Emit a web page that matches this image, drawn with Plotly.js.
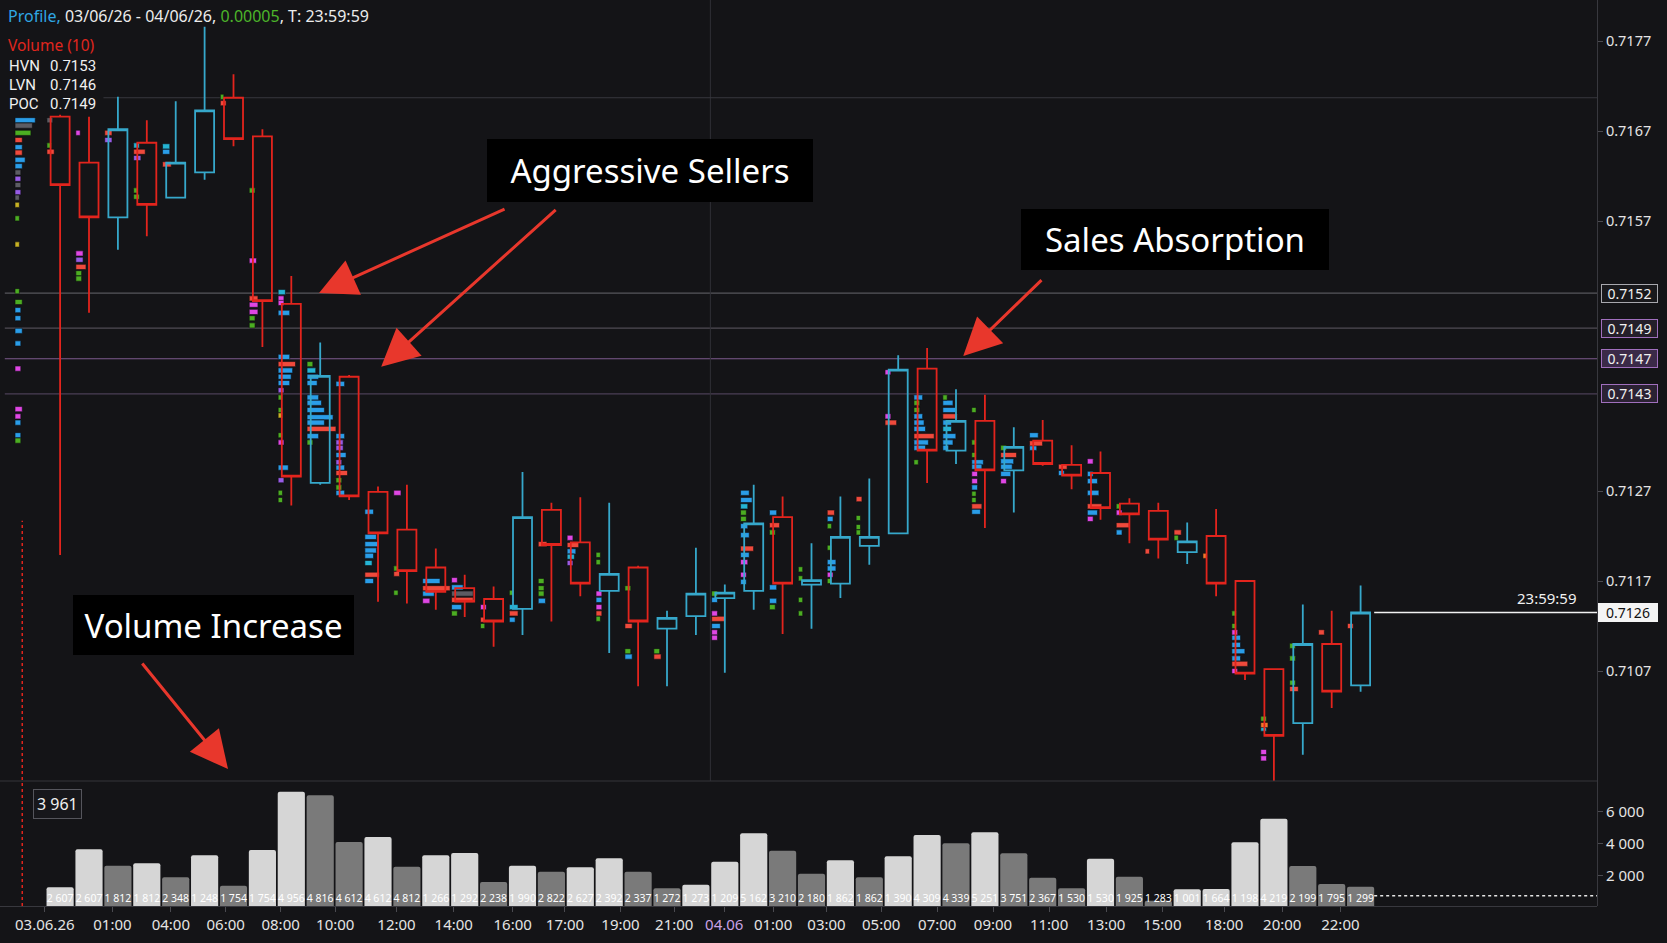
<!DOCTYPE html>
<html><head><meta charset="utf-8">
<script src="https://cdn.plot.ly/plotly-3.0.1.min.js"></script>
<style>html,body{margin:0;padding:0;background:#141417;overflow:hidden}#chart{width:1667px;height:943px}</style>
</head><body><div id="chart"></div>
<script>
// ---------------- DATA ----------------
const openP  = [0.71686,0.71635,0.71574,0.71657,0.71596,0.71624,0.71707,0.71664,0.71478,0.71279,0.71397,0.71269,0.71227,0.71185,0.71162,0.71150,0.71139,0.71249,0.71213,0.71159,0.71185,0.71117,0.71131,0.71151,0.71159,0.71241,0.71166,0.71167,0.71209,0.71223,0.71406,0.71315,0.71348,0.71293,0.71326,0.71299,0.71290,0.71256,0.71248,0.71202,0.71220,0.71170,0.71072,0.71012,0.71100,0.71054];
const highP  = [0.71688,0.71686,0.71708,0.71682,0.71703,0.71786,0.71733,0.71672,0.71509,0.71435,0.71399,0.71275,0.71277,0.71206,0.71177,0.71164,0.71291,0.71257,0.71263,0.71257,0.71187,0.71137,0.71207,0.71166,0.71277,0.71264,0.71212,0.71264,0.71284,0.71421,0.71429,0.71383,0.71377,0.71341,0.71349,0.71321,0.71314,0.71262,0.71257,0.71235,0.71250,0.71170,0.71072,0.71144,0.71137,0.71165];
const lowP   = [0.71199,0.71468,0.71538,0.71553,0.71595,0.71616,0.71653,0.71430,0.71254,0.71277,0.71260,0.71147,0.71145,0.71138,0.71130,0.71097,0.71110,0.71125,0.71153,0.71090,0.71053,0.71053,0.71110,0.71068,0.71138,0.71111,0.71117,0.71151,0.71188,0.71223,0.71279,0.71300,0.71229,0.71246,0.71298,0.71272,0.71238,0.71212,0.71195,0.71189,0.71153,0.71060,0.70901,0.70977,0.71029,0.71047];
const closeP = [0.71610,0.71574,0.71672,0.71588,0.71635,0.71693,0.71661,0.71481,0.71286,0.71398,0.71264,0.71223,0.71181,0.71158,0.71147,0.71125,0.71241,0.71210,0.71167,0.71178,0.71125,0.71129,0.71156,0.71157,0.71234,0.71167,0.71171,0.71219,0.71219,0.71405,0.71315,0.71348,0.71293,0.71319,0.71300,0.71287,0.71251,0.71244,0.71216,0.71214,0.71167,0.71067,0.70998,0.71100,0.71047,0.71135];

const volume = [1275,3650,2625,2775,1900,3275,1375,3606,7250,7025,4106,4419,2563,3275,3419,1606,2625,2250,2525,3088,2250,1213,1438,2875,4650,3563,2125,2963,1900,3213,4544,4025,4713,3400,1875,1213,3063,1938,438,1150,1169,4088,5563,2606,1481,1313];
const volumeLabels = ['2 607','2 607','1 812','1 812','2 348','1 248','1 754','1 754','4 956','4 816','4 612','4 612','4 812','1 266','1 292','2 238','1 990','2 822','2 627','2 392','2 337','1 272','1 273','1 209','5 162','3 210','2 180','1 862','1 862','1 390','4 309','4 339','5 251','3 751','2 367','1 530','1 530','1 925','1 283','1 001','1 664','1 198','4 219','2 199','1 795','1 299'];
const volumeRefLevel = 750;
const volumeBoxLabel = '3 961';

const timeTickPos  = [-0.53,1.81,3.83,5.73,7.63,9.52,11.64,13.62,15.66,17.47,19.39,21.25,22.98,24.67,26.52,28.41,30.35,32.28,34.22,36.2,38.14,40.28,42.29,44.3];
const timeTickText = ['03.06.26','01:00','04:00','06:00','08:00','10:00','12:00','14:00','16:00','17:00','19:00','21:00','04.06','01:00','03:00','05:00','07:00','09:00','11:00','13:00','15:00','18:00','20:00','22:00'];
const dayBreak = 22.5;

const priceTickVals = [0.7177,0.7167,0.7157,0.7127,0.7117,0.7107];
const priceTickText = ['0.7177','0.7167','0.7157','0.7127','0.7117','0.7107'];
const volTickVals = [2000,4000,6000];
const volTickText = ['2 000','4 000','6 000'];

const gridLevel = 0.71707;
const levelPrices = [0.71490,0.71451,0.71417,0.71378];
const levelLabels = ['0.7152','0.7149','0.7147','0.7143'];
const lastPriceLabel = '0.7126';
const timerLabel = '23:59:59';

const legendLabels = ['HVN','LVN','POC'];
const legendValues = ['0.7153','0.7146','0.7149'];

// footprint profiles: candle index (-1 = session profile), prices, sizes (fraction of slot), side/type codes
const profCandles = [-1,0,1,2,3,4,6,7,8,9,10,11,12,13,14,15,16,17,18,19,20,21,23,24,25,26,27,28,29,30,31,32,33,34,35,36,37,38,39,40,41,42,43,44,45];
const profPrices = [
 [0.71682,0.71676,0.71668,0.71660,0.71652,0.71646,0.71638,0.71631,0.71624,0.71617,0.71610,0.71602,0.71596,0.71588,0.71573,0.71544,0.71492,0.71480,0.71471,0.71462,0.71448,0.71434,0.71406,0.71361,0.71353,0.71346,0.71332,0.71326],
 [0.71682,0.71654,0.71647],
 [0.71668,0.71534,0.71527,0.71519,0.71512,0.71506],
 [0.71668,0.71660],
 [0.71654,0.71647,0.71640,0.71604,0.71597],
 [0.71653,0.71647,0.71633],
 [0.71708,0.71701],
 [0.71604,0.71526,0.71484,0.71477,0.71469,0.71462,0.71454],
 [0.71491,0.71484,0.71479,0.71468,0.71419,0.71411,0.71404,0.71397,0.71390,0.71382,0.71374,0.71360,0.71354,0.71332,0.71324,0.71296,0.71282,0.71268,0.71260],
 [0.71411,0.71404,0.71397,0.71390,0.71374,0.71368,0.71360,0.71352,0.71346,0.71339,0.71331,0.71324],
 [0.71389,0.71331,0.71324,0.71318,0.71310,0.71302,0.71296,0.71290,0.71282,0.71274,0.71268],
 [0.71247,0.71219,0.71211,0.71204,0.71198,0.71190,0.71177,0.71170],
 [0.71268,0.71184,0.71178,0.71157],
 [0.71170,0.71162,0.71156,0.71148],
 [0.71171,0.71163,0.71156,0.71149,0.71141,0.71134],
 [0.71141,0.71127,0.71120],
 [0.71157,0.71141,0.71134,0.71127],
 [0.71211,0.71170,0.71162,0.71156,0.71148],
 [0.71218,0.71210,0.71203,0.71197,0.71190],
 [0.71199,0.71191,0.71156,0.71149,0.71141,0.71134,0.71128],
 [0.71162,0.71120,0.71092,0.71086],
 [0.71092,0.71086],
 [0.71156,0.71149,0.71134,0.71128,0.71120,0.71113,0.71107],
 [0.71268,0.71260,0.71253,0.71246,0.71239,0.71231,0.71221,0.71206,0.71199,0.71191,0.71177,0.71169],
 [0.71246,0.71232,0.71224,0.71163,0.71148,0.71141],
 [0.71183,0.71173,0.71149,0.71134],
 [0.71246,0.71239,0.71231,0.71207,0.71191,0.71184,0.71177,0.71170],
 [0.71261,0.71240,0.71230,0.71224],
 [0.71402,0.71353,0.71346],
 [0.71374,0.71368,0.71360,0.71353,0.71346,0.71339,0.71331,0.71324,0.71318,0.71302],
 [0.71374,0.71368,0.71360,0.71353,0.71346,0.71339,0.71331,0.71324,0.71318],
 [0.71360,0.71324,0.71310,0.71302,0.71297,0.71289,0.71281,0.71274,0.71267,0.71260,0.71253,0.71247],
 [0.71318,0.71310,0.71303,0.71297,0.71289,0.71281],
 [0.71332,0.71323,0.71318],
 [0.71297,0.71290],
 [0.71303,0.71289,0.71281,0.71268,0.71253,0.71246,0.71239],
 [0.71253,0.71246,0.71232,0.71224],
 [0.71203],
 [0.71224,0.71218],
 [0.71198],
 [0.71134,0.71120,0.71113,0.71107,0.71099,0.71092,0.71084,0.71078,0.71070],
 [0.71017,0.71010,0.71006,0.70980,0.70973,0.70938,0.70922,0.70917,0.70908],
 [0.71098,0.71084,0.71057,0.71050],
 [0.71113],
 [0.71120]
];
const profSizes = [
 [.70,.60,.55,.25,.25,.25,.35,.25,.20,.20,.20,.20,.15,.15,.15,.15,.15,.25,.20,.20,.25,.20,.20,.25,.20,.20,.20,.20],
 [.2,.15,.25],
 [.15,.25,.25,.35,.2,.2],
 [.25,.25],
 [.2,.4,.25,.15,.2],
 [.25,.25,.3],
 [.12,.2],
 [.2,.25,.3,.3,.3,.2,.2],
 [.25,.2,.2,.4,.4,.6,.5,.45,.4,.2,.15,.15,.15,.15,.2,.35,.2,.15,.15],
 [.2,.3,.4,.35,.4,.5,.6,.9,.6,1.0,.4,.2],
 [.3,.3,.25,.25,.35,.2,.3,.4,.2,.2,.3],
 [.3,.4,.45,.4,.3,.25,.5,.3],
 [.25,.15,.2,.15],
 [.6,.95,.4,.25],
 [.2,.4,.75,.75,.35,.2],
 [.2,.15,.15],
 [.15,.3,.3,.2],
 [.3,.2,.2,.2,.25],
 [.2,.4,.3,.25,.2],
 [.15,.15,.2,.2,.2,.2,.15],
 [.2,.25,.2,.25],
 [.2,.25],
 [.2,.2,.2,.45,.3,.2,.2],
 [.3,.4,.25,.2,.2,.25,.3,.45,.3,.25,.2,.2],
 [.25,.35,.2,.25,.25,.2],
 [.15,.15,.15,.15],
 [.25,.2,.15,.15,.3,.3,.2,.15],
 [.2,.15,.15,.15],
 [.2,.2,.4],
 [.3,.2,.2,.3,.35,.4,.7,.5,.4,.15],
 [.15,.35,.45,.5,.3,.3,.45,.35,.2],
 [.15,.15,.15,.4,.35,.2,.2,.2,.15,.15,.35,.3],
 [.2,.55,.45,.4,.35,.2],
 [.3,.45,.25],
 [.3,.2],
 [.2,.2,.35,.4,.5,.35,.2],
 [.15,.2,.45,.2],
 [.15],
 [.25,.15],
 [.12],
 [.15,.15,.2,.3,.3,.45,.3,.55,.2],
 [.2,.25,.2,.2,.2,.25,.2,.25,.15],
 [.2,.2,.2,.3],
 [.2],
 [.2]
];
const profTypes = ['bkgrbrbbkvkvkygyggbbbbmmmbbg','kgr','mmvrgg','rv','crvgg','cbr','gr','gmrmmgg','cmmbbrbbbvggygmbvgg','gcbbbbbbbrbg','bbvvbvbrggb','bbbbbcrb','mgrg','brbm','mbkrbg','mrg','gcrb','rgggb','mrbcv','ggmbmrg','grgb','gr','gbmrbmm','bbcggbbrbmmb','brgbbg','gggg','rbggbbmg','rggg','mmr','bggbbbrbbg','gbbrbcbbb','gggbbmmbggrb','grbbbm','brb','rb','mbbbrbm','gmrb','r','rg','o','ggmbbbbrm','gocmmrgbc','gggr','r','r'];

// ---------------- RENDER ----------------
const FONT = 'Noto Sans, Open Sans, sans-serif';
const TIGHT = 'Roboto, Noto Sans, sans-serif';
const BG = '#141417';
const UP = '#36a8cb', DOWN = '#e3241d';
const PW = 1597, PH = 906;                 // plot area in px (margins l=0,t=0)
const px = X => X / PW, py = Y => 1 - Y / PH;
const X_RANGE = [-2.08, 53.18];
const Y_RANGE = [0.708089, 0.718156];
const V_RANGE = [106, 7919];
const V_DOMAIN = [0, 125 / PH];
const idx = openP.map((_, i) => i);

const traces = [];

// footprint profile bars
const profColors = {b:'#2a9de8', c:'#25b4d4', r:'#ef4a3c', g:'#4cae22', m:'#df47e4', v:'#985ce6', y:'#c8b224', k:'#5c5c63', o:'#f0782c'};
const flat = {c:[], p:[], s:[], t:[]};
profCandles.forEach((c, k) => {
  profPrices[k].forEach((p, j) => {
    flat.c.push(c); flat.p.push(p); flat.s.push(profSizes[k][j]); flat.t.push(profTypes[k][j]);
  });
});
Object.keys(profColors).forEach(t => {
  const sel = flat.t.map((v, i) => v === t ? i : -1).filter(i => i >= 0);
  if (!sel.length) return;
  traces.push({
    type: 'bar', orientation: 'h', xaxis: 'x', yaxis: 'y',
    y: sel.map(i => flat.p[i]), x: sel.map(i => flat.s[i]),
    base: sel.map(i => flat.c[i] < 0 ? -1.56 : flat.c[i] - 0.455),
    width: 0.000057, marker: {color: profColors[t], cornerradius: 0.5, line: {width: 0.6, color: '#0d0d10'}},
    hoverinfo: 'skip', showlegend: false
  });
});

// candles
traces.push({
  type: 'candlestick', x: idx, open: openP, high: highP, low: lowP, close: closeP,
  xaxis: 'x', yaxis: 'y', whiskerwidth: 0,
  increasing: {line: {color: UP, width: 1.8}, fillcolor: 'rgba(0,0,0,0)'},
  decreasing: {line: {color: DOWN, width: 1.8}, fillcolor: 'rgba(0,0,0,0)'},
  hoverinfo: 'skip', showlegend: false
});

// volume bars
const volColors = volume.map((v, i) => (i === 0 || v >= volume[i - 1]) ? '#d6d6d6' : '#7a7a7a');
traces.push({
  type: 'bar', x: idx, y: volume, xaxis: 'x', yaxis: 'y2',
  marker: {color: volColors, line: {width: 0}},
  text: volumeLabels, textposition: 'inside', insidetextanchor: 'start', textangle: 0,
  constraintext: 'none', textfont: {family: FONT, size: 10.5, color: '#ffffff'},
  hoverinfo: 'skip', showlegend: false
});

// shapes
const shapes = [];
shapes.push({type: 'line', layer: 'below', xref: 'x', yref: 'y', x0: 1.5, x1: X_RANGE[1], y0: gridLevel, y1: gridLevel, line: {color: '#38383e', width: 1}});
const levelLine = ['#56565c', '#4f4b55', '#7d5a8e', '#4a3e56'];
const levelFill = ['#19191c', '#241f2a', '#3b2a48', '#2b2233'];
const levelBorder = ['#a8a8ae', '#a06fbd', '#a06fbd', '#a06fbd'];
levelPrices.forEach((p, i) => {
  shapes.push({type: 'line', layer: 'below', xref: 'paper', yref: 'y', x0: 0.003, x1: 1, y0: p, y1: p, line: {color: levelLine[i], width: 1.2}});
});
shapes.push({type: 'line', layer: 'below', xref: 'x', yref: 'paper', x0: dayBreak, x1: dayBreak, y0: 0, y1: 1, line: {color: '#303036', width: 1}});
shapes.push({type: 'line', xref: 'x', yref: 'y', x0: -1.31, x1: -1.31, y0: Y_RANGE[0], y1: 0.71237, line: {color: '#e0241c', width: 1.5, dash: 'dot'}});
shapes.push({type: 'line', xref: 'x', yref: 'y', x0: idx[idx.length - 1] + 0.47, x1: X_RANGE[1], y0: closeP[closeP.length - 1], y1: closeP[closeP.length - 1], line: {color: '#f2f2f2', width: 1.6}});
shapes.push({type: 'line', xref: 'paper', yref: 'y2 domain', x0: 0, x1: 1, y0: 1, y1: 1, line: {color: '#34343a', width: 1}});
shapes.push({type: 'line', xref: 'x', yref: 'y2', x0: idx[idx.length - 1] + 0.47, x1: X_RANGE[1], y0: volumeRefLevel, y1: volumeRefLevel, line: {color: '#e6e6e6', width: 1.4, dash: 'dot'}});

// annotations
const ann = [];
const txt = (x, y, text, size, color, fam) => ({xref: 'paper', yref: 'paper', x, y, text, showarrow: false, xanchor: 'left', yanchor: 'middle',
  font: {family: fam || FONT, size, color}, borderpad: 0});
ann.push(txt(px(7), py(16), '<span style="color:#2fa7e4">Profile,</span> 03/06/26 - 04/06/26, <span style="color:#4cb52a">0.00005</span>, T: 23:59:59', 16, '#ececec'));
ann.push(txt(px(7), py(45), 'Volume (10)', 15.5, '#e0261e'));
legendLabels.forEach((l, i) => {
  ann.push(txt(px(8), py(66.5 + i * 18.8), l, 15, '#f0f0f0', TIGHT));
  ann.push(txt(px(49), py(66.5 + i * 18.8), legendValues[i], 15, '#f0f0f0', TIGHT));
});
// level labels on the right axis
levelPrices.forEach((p, i) => {
  ann.push({xref: 'paper', yref: 'y', x: 1, y: p, xanchor: 'left', yanchor: 'middle', xshift: 4,
    text: levelLabels[i], showarrow: false, font: {family: FONT, size: 14, color: '#f0f0f0'},
    bgcolor: levelFill[i], bordercolor: levelBorder[i], borderwidth: 1, borderpad: 1, width: 53, height: 15});
});
ann.push({xref: 'paper', yref: 'y', x: 1, y: closeP[closeP.length - 1], xanchor: 'left', yanchor: 'middle', xshift: 1,
  text: lastPriceLabel, showarrow: false, font: {family: FONT, size: 14, color: '#111'},
  bgcolor: '#f4f4f4', bordercolor: '#f4f4f4', borderwidth: 1, borderpad: 1, width: 56, height: 15});
ann.push({xref: 'paper', yref: 'y', x: px(1579), y: closeP[closeP.length - 1], xanchor: 'right', yanchor: 'bottom', yshift: 3,
  text: timerLabel, showarrow: false, font: {family: FONT, size: 15, color: '#f0f0f0'}});
ann.push({xref: 'paper', yref: 'paper', x: px(57.5), y: py(804), xanchor: 'center', yanchor: 'middle',
  text: volumeBoxLabel, showarrow: false, font: {family: FONT, size: 16, color: '#f0f0f0'},
  bgcolor: '#17171b', bordercolor: '#55555c', borderwidth: 1, borderpad: 3});
// callouts
const callout = (X, Y, w, h, text) => ({xref: 'paper', yref: 'paper', x: px(X), y: py(Y), xanchor: 'center', yanchor: 'middle',
  text, showarrow: false, width: w, height: h, bgcolor: '#000000', borderpad: 0, borderwidth: 0,
  font: {family: FONT, size: 33, color: '#ffffff'}});
ann.push(callout(650, 170.5, 326, 63, 'Aggressive Sellers'));
ann.push(callout(1175, 239.5, 308, 61, 'Sales Absorption'));
ann.push(callout(213.5, 625, 281, 60, 'Volume Increase'));
const arrow = (x, y, ax, ay) => ({xref: 'x', yref: 'y', axref: 'x', ayref: 'y', x, y, ax, ay, text: '',
  showarrow: true, arrowhead: 2, arrowsize: 2.5, arrowwidth: 3, arrowcolor: '#e8372c', standoff: 0, startstandoff: 0});
ann.push(arrow(8.96, 0.71490, 15.43, 0.71584));
ann.push(arrow(11.11, 0.71408, 17.2, 0.71584));
ann.push(arrow(31.25, 0.71420, 34.01, 0.71506));
ann.push(arrow(5.81, 0.70961, 2.80, 0.71080));

const tickFont = {family: FONT, size: 14.5, color: '#e4e4e4'};
const layout = {
  width: 1667, height: 943,
  margin: {l: 0, r: 70, t: 0, b: 37},
  paper_bgcolor: BG, plot_bgcolor: BG,
  font: {family: FONT, color: '#e4e4e4'},
  showlegend: false, barmode: 'overlay', bargap: 0.06, boxgap: 0.06, barcornerradius: 2,
  xaxis: {range: X_RANGE, anchor: 'y2', tickmode: 'array', tickvals: timeTickPos,
    ticktext: timeTickText.map(t => t === '04.06' ? '<span style="color:#c9a2e6">04.06</span>' : t),
    ticks: 'outside', ticklen: 5, tickcolor: '#4a4a50', showgrid: false, zeroline: false,
    showline: true, linecolor: '#38383e', tickfont: {family: FONT, size: 15, color: '#e4e4e4'},
    rangeslider: {visible: false}, fixedrange: true},
  yaxis: {domain: [0, 1], range: Y_RANGE, side: 'right', anchor: 'x', tickmode: 'array',
    tickvals: priceTickVals, ticktext: priceTickText, ticks: 'outside', ticklen: 5, tickcolor: '#4a4a50',
    showgrid: false, zeroline: false, showline: true, linecolor: '#38383e', tickfont: tickFont, fixedrange: true},
  yaxis2: {domain: V_DOMAIN, range: V_RANGE, side: 'right', anchor: 'x', tickmode: 'array',
    tickvals: volTickVals, ticktext: volTickText, ticks: 'outside', ticklen: 5, tickcolor: '#4a4a50',
    showgrid: false, zeroline: false, showline: false, tickfont: {family: FONT, size: 15, color: '#e4e4e4'}, fixedrange: true},
  shapes, annotations: ann
};
Plotly.newPlot('chart', traces, layout, {staticPlot: true, displayModeBar: false});
</script></body></html>
